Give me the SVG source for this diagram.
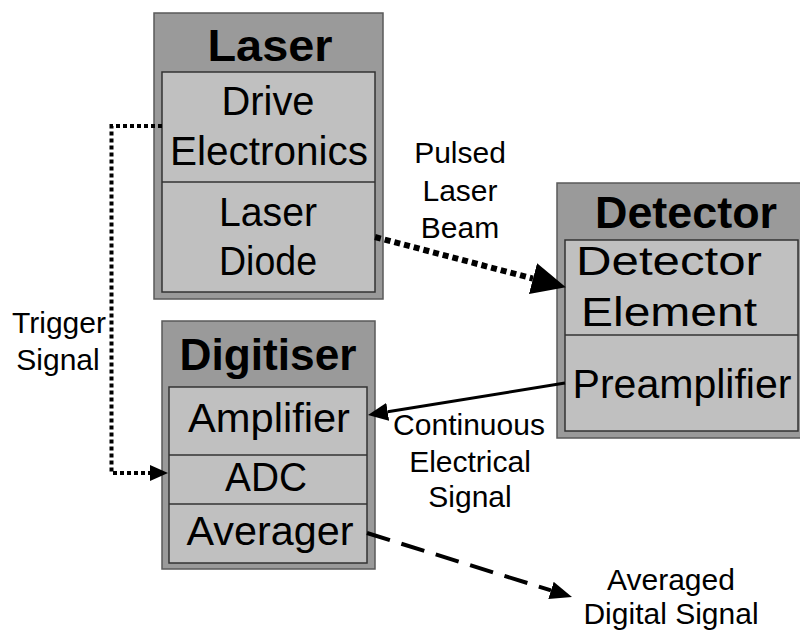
<svg xmlns="http://www.w3.org/2000/svg" width="800" height="632" viewBox="0 0 800 632">
<style>
text{font-family:"Liberation Sans",Arial,sans-serif;fill:#000;text-anchor:middle}
.title{font-weight:bold;font-size:45px}
.item{font-size:40px}
.lbl{font-size:30px}
.outer{fill:#9a9a9a;stroke:#5a5a5a;stroke-width:1.5}
.inner{fill:#c0c0c0;stroke:#333;stroke-width:1.5}
.div{stroke:#333;stroke-width:1.5}
.conn{fill:none;stroke:#000}
</style>
<defs>
<marker id="mA" markerUnits="userSpaceOnUse" markerWidth="18" markerHeight="16" refX="0" refY="8" orient="auto"><path d="M0,0 L18,8 L0,16 z" fill="#000"/></marker>
<marker id="mB" markerUnits="userSpaceOnUse" markerWidth="34" markerHeight="32" refX="0" refY="16" orient="auto"><path d="M0,0 L34,16 L0,32 z" fill="#000"/></marker>
<marker id="mC" markerUnits="userSpaceOnUse" markerWidth="20" markerHeight="18" refX="0" refY="9" orient="auto"><path d="M0,0 L20,9 L0,18 z" fill="#000"/></marker>
<marker id="mD" markerUnits="userSpaceOnUse" markerWidth="22" markerHeight="18" refX="0" refY="9" orient="auto"><path d="M0,0 L22,9 L0,18 z" fill="#000"/></marker>
</defs>
<rect width="800" height="632" fill="#fff"/>
<g id="laser">
<rect class="outer" x="154" y="13" width="229" height="286"/>
<rect class="inner" x="162" y="72" width="213" height="220"/>
<line class="div" x1="162" y1="182" x2="375" y2="182"/>
<text class="title" x="270" y="61" textLength="125" lengthAdjust="spacingAndGlyphs">Laser</text>
<text class="item" x="268" y="115" textLength="93" lengthAdjust="spacingAndGlyphs">Drive</text>
<text class="item" x="269" y="165" textLength="198" lengthAdjust="spacingAndGlyphs">Electronics</text>
<text class="item" x="268" y="226" textLength="98" lengthAdjust="spacingAndGlyphs">Laser</text>
<text class="item" x="268" y="275" textLength="98" lengthAdjust="spacingAndGlyphs">Diode</text>
</g>
<g id="detector">
<rect class="outer" x="557" y="183" width="246" height="255"/>
<rect class="inner" x="565" y="240" width="233" height="191"/>
<line class="div" x1="565" y1="335" x2="798" y2="335"/>
<text class="title" x="686" y="228" textLength="182" lengthAdjust="spacingAndGlyphs">Detector</text>
<text class="item" x="669" y="275" textLength="186" lengthAdjust="spacingAndGlyphs">Detector</text>
<text class="item" x="669" y="326" textLength="176" lengthAdjust="spacingAndGlyphs">Element</text>
<text class="item" x="682" y="398" textLength="219" lengthAdjust="spacingAndGlyphs">Preamplifier</text>
</g>
<g id="digitiser">
<rect class="outer" x="162" y="321" width="213" height="248"/>
<rect class="inner" x="169" y="387" width="198" height="176"/>
<line class="div" x1="169" y1="455" x2="367" y2="455"/>
<line class="div" x1="169" y1="504" x2="367" y2="504"/>
<text class="title" x="268" y="370" textLength="177" lengthAdjust="spacingAndGlyphs">Digitiser</text>
<text class="item" x="269" y="432" textLength="162" lengthAdjust="spacingAndGlyphs">Amplifier</text>
<text class="item" x="266" y="491" textLength="82" lengthAdjust="spacingAndGlyphs">ADC</text>
<text class="item" x="270" y="545" textLength="167" lengthAdjust="spacingAndGlyphs">Averager</text>
</g>
<g id="connectors">
<path class="conn" d="M162,126 H111.5 V473 H150" stroke-width="4" stroke-dasharray="4 3" marker-end="url(#mA)"/>
<path class="conn" d="M375,237 L533,278.6" stroke-width="6" stroke-dasharray="6 4" marker-end="url(#mB)"/>
<path class="conn" d="M565,383 L387.7,411.8" stroke-width="3" marker-end="url(#mC)"/>
<path class="conn" d="M367,533 L551,590.4" stroke-width="4" stroke-dasharray="24 12" marker-end="url(#mD)"/>
</g>
<g id="labels">
<text class="lbl" x="460" y="163">Pulsed</text>
<text class="lbl" x="460" y="201">Laser</text>
<text class="lbl" x="460" y="238">Beam</text>
<text class="lbl" x="59" y="333">Trigger</text>
<text class="lbl" x="58" y="370">Signal</text>
<text class="lbl" x="469" y="435">Continuous</text>
<text class="lbl" x="470" y="472">Electrical</text>
<text class="lbl" x="470" y="507">Signal</text>
<text class="lbl" x="671" y="590">Averaged</text>
<text class="lbl" x="671" y="624">Digital Signal</text>
</g>
</svg>
